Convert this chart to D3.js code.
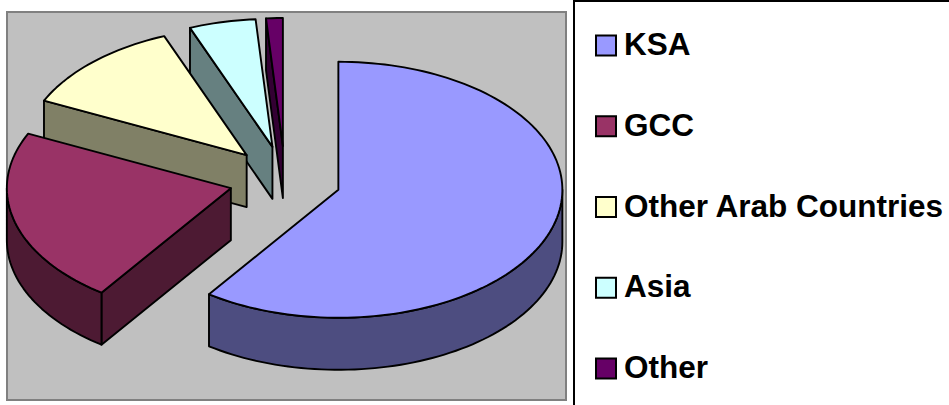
<!DOCTYPE html>
<html>
<head>
<meta charset="utf-8">
<script src="https://cdn.jsdelivr.net/npm/d3@7"></script>
<style>
  html, body { margin: 0; padding: 0; background: #fff; overflow: hidden; }
  svg { display: block; }
  text { font-family: "Liberation Sans", Arial, sans-serif; font-weight: bold; }
</style>
</head>
<body>
<svg id="chart" width="949" height="405"></svg>
<script>
// values (percent of the pie)
var categories = ["KSA", "GCC", "Other Arab Countries", "Asia", "Other"];
var values = [59.8, 22.2, 12, 4.8, 1.2];

var topColor = d3.scaleOrdinal().domain(categories)
    .range(["#9999ff", "#993366", "#ffffcc", "#ccffff", "#660066"]);
var wallColor = d3.scaleOrdinal().domain(categories)
    .range(["#4d4d80", "#4d1a33", "#808066", "#668080", "#330033"]);

var svg = d3.select("#chart");

// plot area
svg.append("rect")
    .attr("x", 7).attr("y", 12)
    .attr("width", 559).attr("height", 388)
    .attr("fill", "#c0c0c0")
    .attr("stroke", "#808080")
    .attr("stroke-width", 2);

// pie geometry, angles measured clockwise from the top
var cx = 285, cy = 179.6, rx = 224, ry = 128, depth = 52;
var explodeX = 56, explodeY = 33.6;

var sc_x = d3.scaleLinear().domain([-1, 1]).range([-rx, rx]);
var sc_y = d3.scaleLinear().domain([-1, 1]).range([-ry, ry]);

var pie = d3.pie().sort(null).startAngle(0).endAngle(2 * Math.PI);
var slices = pie(values).map(function(d, i) {
    var mid = (d.startAngle + d.endAngle) / 2;
    d.name = categories[i];
    d.ax = cx + explodeX * Math.sin(mid);
    d.ay = cy - explodeY * Math.cos(mid);
    return d;
});

var line = d3.line();

function rim(d, a, dy) {
    return [d.ax + sc_x(Math.sin(a)), d.ay + sc_y(-Math.cos(a)) + dy];
}

function arcPoints(d, a0, a1, dy) {
    var n = Math.max(2, Math.ceil(Math.abs(a1 - a0) / 0.03));
    return d3.range(n + 1).map(function(k) {
        return rim(d, a0 + (a1 - a0) * k / n, dy);
    });
}

var g = svg.append("g")
    .attr("stroke", "#000")
    .attr("stroke-width", 1.9)
    .attr("stroke-linejoin", "round");

// back slices first, so the front ones cover them
slices.slice().reverse().forEach(function(d) {
    var wall = wallColor(d.name);

    // cut face on the start side, only seen when it looks down at the viewer
    if (d.startAngle > Math.PI) {
        var p0 = [d.ax, d.ay], p1 = rim(d, d.startAngle, 0);
        g.append("path")
            .attr("fill", wall)
            .attr("d", line([p0, p1, [p1[0], p1[1] + depth], [p0[0], p0[1] + depth]]) + "Z");
    }

    // outer wall, front half of the rim only
    var a0 = Math.max(d.startAngle, Math.PI / 2);
    var a1 = Math.min(d.endAngle, 3 * Math.PI / 2);
    if (a1 > a0) {
        var upper = arcPoints(d, a0, a1, 0);
        var lower = arcPoints(d, a1, a0, depth);
        g.append("path")
            .attr("fill", wall)
            .attr("d", line(upper.concat(lower)) + "Z");
    }

    // top face
    g.append("path")
        .attr("fill", topColor(d.name))
        .attr("d", line([[d.ax, d.ay]].concat(arcPoints(d, d.startAngle, d.endAngle, 0))) + "Z");
});

// legend
svg.append("rect")
    .attr("x", 574).attr("y", 1)
    .attr("width", 420).attr("height", 460)
    .attr("fill", "#fff")
    .attr("stroke", "#000")
    .attr("stroke-width", 2);

var sc_legend = d3.scalePoint().domain(categories).range([45.5, 368.5]);

var items = svg.selectAll(".item").data(categories).enter().append("g")
    .attr("class", "item")
    .attr("transform", function(d) { return "translate(0," + sc_legend(d) + ")"; });

items.append("rect")
    .attr("x", 596).attr("y", -10)
    .attr("width", 20).attr("height", 20)
    .attr("fill", function(d) { return topColor(d); })
    .attr("stroke", "#000")
    .attr("stroke-width", 2);

items.append("text")
    .attr("x", 624).attr("y", 9.5)
    .attr("font-size", 31.5)
    .attr("fill", "#000")
    .text(function(d) { return d; });
</script>
</body>
</html>
